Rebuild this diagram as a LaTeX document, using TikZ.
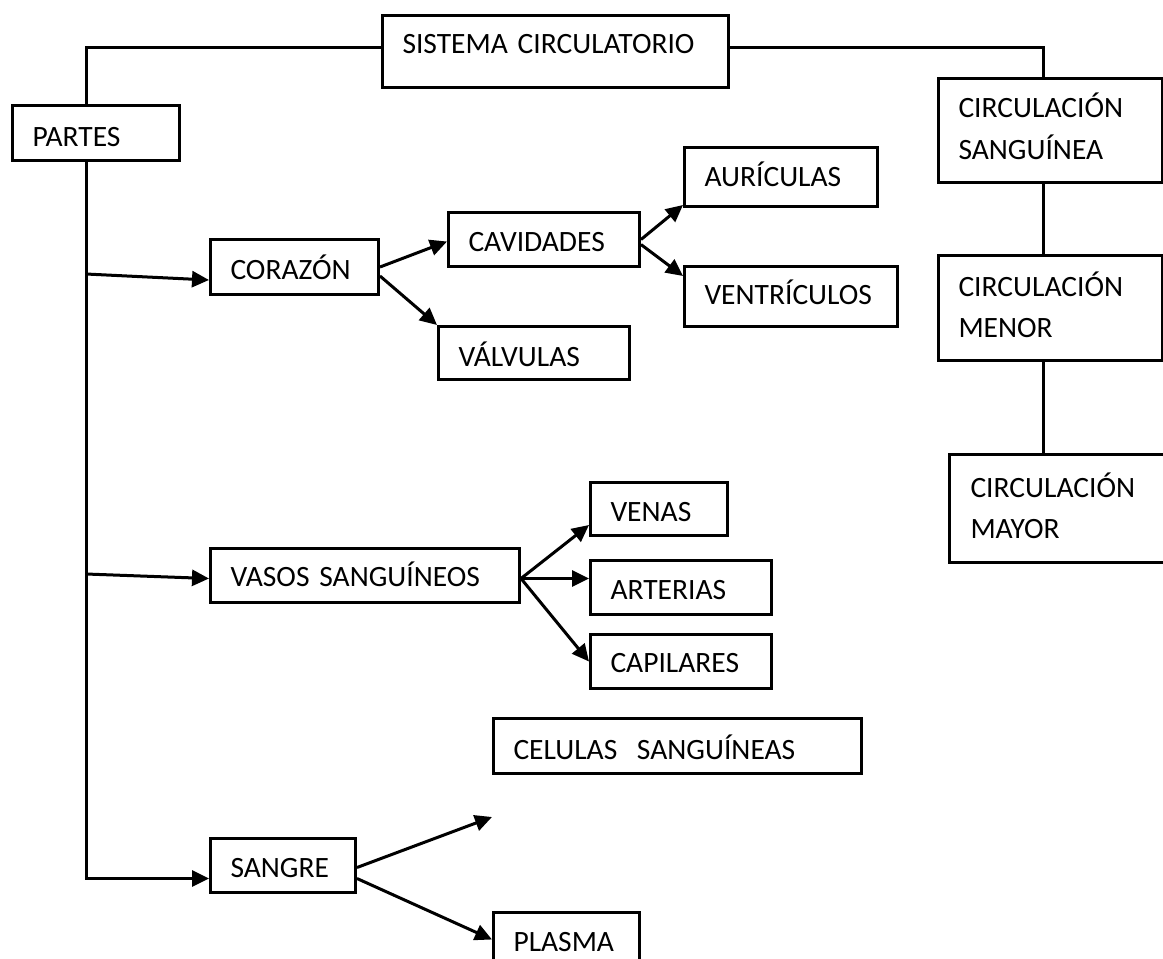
\documentclass[tikz,border=0pt]{standalone}
\usepackage{fontspec}
\setmainfont{Carlito}
\usetikzlibrary{arrows.meta}
\begin{document}
\begin{tikzpicture}[x=1pt,y=-1pt,
  box/.style={draw, line width=3pt, rectangle, anchor=north west,
    inner xsep=20pt, inner ysep=0pt, align=left,
    font=\fontsize{29.5}{41.5}\selectfont, text height=29pt},
  wire/.style={line width=3pt},
  arr/.style={line width=3pt, -{Triangle[length=17pt,width=16pt]}},
]
\useasboundingbox (0,0) rectangle (1163,959);
\clip (0,0) rectangle (1163,959);

% title and first level
\node[box, text width=306pt, minimum height=72pt, text depth=24.3pt] (sis) at (381,14) {SISTEMA CIRCULATORIO};
\node[box, text width=127pt, minimum height=55pt, text depth=1.3pt] (partes) at (11,104) {PARTES};

% heart
\node[box, text width=128pt, minimum height=55pt, text depth=3.3pt] (corazon) at (209,238) {CORAZÓN};
\node[box, text width=151pt, minimum height=54pt, text depth=5.3pt] (cav) at (447,211) {CAVIDADES};
\node[box, text width=153pt, minimum height=59pt, text depth=9.3pt] (aur) at (683,146) {AURÍCULAS};
\node[box, text width=173pt, minimum height=60pt, text depth=12.3pt] (ven) at (683,265) {VENTRÍCULOS};
\node[box, text width=151pt, minimum height=53pt, text depth=2.3pt] (val) at (437,325) {VÁLVULAS};

% vessels
\node[box, text width=269pt, minimum height=54pt, text depth=6.3pt] (vasos) at (209,547) {VASOS SANGUÍNEOS};
\node[box, text width=97pt, minimum height=53pt, text depth=3.3pt] (venas) at (589,481) {VENAS};
\node[box, text width=141pt, minimum height=54pt, text depth=4.3pt] (art) at (589,559) {ARTERIAS};
\node[box, text width=141pt, minimum height=54pt, text depth=6.3pt] (cap) at (589,633) {CAPILARES};

% blood
\node[box, text width=328pt, minimum height=55pt, text depth=1.3pt] (cel) at (492,717) {CELULAS\ \ SANGUÍNEAS};
\node[box, text width=105pt, minimum height=54pt, text depth=4.3pt] (sangre) at (209,837) {SANGRE};
\node[box, text width=106pt, minimum height=54pt, text depth=5.3pt] (plasma) at (492,911) {PLASMA};

% circulation column
\node[box, text width=184pt, minimum height=104pt, text depth=54.8pt] (csang) at (937,77) {CIRCULACIÓN\\SANGUÍNEA};
\node[box, text width=184pt, minimum height=105pt, text depth=52.8pt] (cmenor) at (937,254) {CIRCULACIÓN\\MENOR};
\node[box, draw=none, text width=194pt, minimum height=105pt, text depth=50.8pt] (cmayor) at (949,454) {CIRCULACIÓN\\MAYOR};
\draw[wire] (cmayor.north east) -- (cmayor.north west) -- (cmayor.south west) -- (cmayor.south east);

% plain connectors
\coordinate (tk) at (86,47);
\coordinate (rk) at (1043,47);
\coordinate (t1) at (86,274);
\coordinate (t2) at (86,574);
\coordinate (free) at (492,817);
\draw[wire] (tk |- partes.north) -- (tk) -- (tk -| sis.west);
\draw[wire] (rk -| sis.east) -- (rk) -- (rk |- csang.north);
\draw[wire] (rk |- csang.south) -- (rk |- cmenor.north);
\draw[wire] (rk |- cmenor.south) -- (rk |- cmayor.north);

% arrows
\draw[arr] (tk |- partes.south) |- ([yshift=-13pt]sangre.west);
\draw[arr] (t1) -- ([yshift=16pt]corazon.south west);
\draw[arr] (t2) -- ([yshift=-3pt]vasos.west);
\draw[arr] (corazon.east) -- ([yshift=-2pt]cav.west);
\draw[arr] ([yshift=-9pt]corazon.east) -- (val.north west);
\draw[arr] (cav.east) -- ([yshift=3pt]aur.south west);
\draw[arr] ([yshift=-5pt]cav.east) -- ([yshift=-11pt]ven.north west);
\draw[arr] ([yshift=-3pt]vasos.east) -- ([yshift=12pt]venas.south west);
\draw[arr] ([yshift=-3pt]vasos.east) -- ([yshift=9pt]art.west);
\draw[arr] ([yshift=-3pt]vasos.east) -- (cap.west);
\draw[arr] ([yshift=-2pt]sangre.east) -- (free);
\draw[arr] ([yshift=-13pt]sangre.east) -- (plasma.west);
\end{tikzpicture}
\end{document}
